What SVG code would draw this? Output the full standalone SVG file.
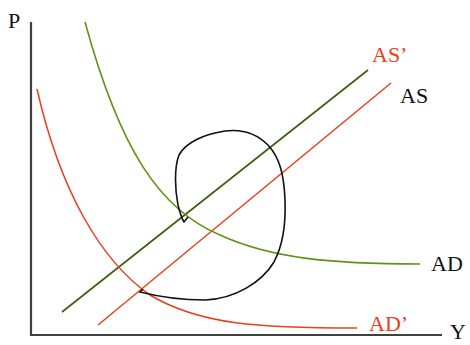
<svg xmlns="http://www.w3.org/2000/svg" width="470" height="345" viewBox="0 0 470 345">
<style>
text{font-family:"Liberation Serif","Times New Roman",serif;font-size:22px}
.blk{fill:#111}
.red{fill:#e8401c}
.axis{stroke:#404040;stroke-width:2.2;fill:none}
.green{stroke:#5f9410;stroke-width:1.6;fill:none}
.as{stroke:#3a5e0c;stroke-width:1.6;fill:none}
.redl{stroke:#e8401c;stroke-width:1.5;fill:none}
.loop{stroke:#111;stroke-width:1.6;fill:none}
</style>
<rect width="470" height="345" fill="#fff"/>
<g id="axes">
<path class="axis" d="M31,22 V335 H442"/>
<text id="P" class="blk" x="8" y="28">P</text>
<text id="Y" class="blk" x="450" y="339">Y</text>
</g>
<g id="connectors">
<path id="AS-line" class="as" d="M62,312 L368,70"/>
<path id="ASp-line" class="redl" d="M98,325 L391,83"/>
<path id="AD-curve" class="green" d="M85,22 C120,150 160,210 220,235 C270,258 330,264 420,264"/>
<path id="ADp-curve" class="redl" d="M37,89 C60,190 100,260 150,295 C200,325 260,328 357,328"/>
<path id="loop" class="loop" d="M143,289 L140,292 C160,297 185,300 205,300 C235,299 262,282 274,262 C283,245 286,225 285,200 C284,175 280,158 268,145 C255,132 240,129 225,131 C205,134 186,142 179,155 C174,168 175,190 178,205 C180,213 182,219 184,222 L188,217"/>
</g>
<g id="label-ASp"><text class="red" x="372" y="62">AS’</text></g>
<g id="label-AS"><text class="blk" x="400" y="103">AS</text></g>
<g id="label-AD"><text class="blk" x="431" y="271">AD</text></g>
<g id="label-ADp"><text class="red" x="369" y="331">AD’</text></g>
</svg>
